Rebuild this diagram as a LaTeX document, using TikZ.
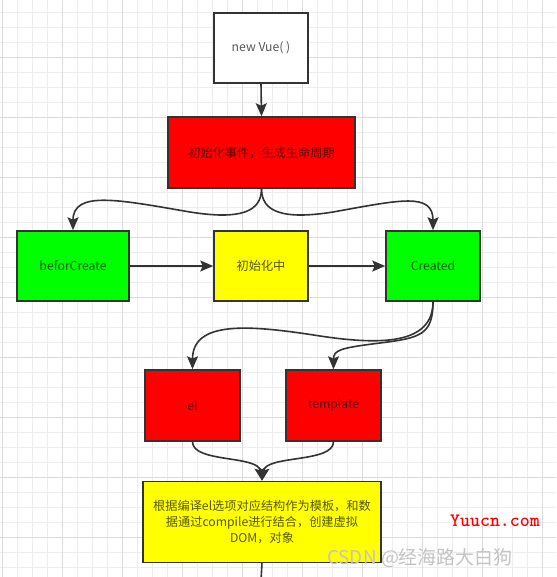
\documentclass[tikz,border=0pt]{standalone}
\usepackage{fontspec}
\setmainfont{Noto Sans CJK SC}
\usetikzlibrary{arrows.meta}
\definecolor{edgecol}{HTML}{333333}
\definecolor{boxred}{HTML}{FF0000}
\definecolor{boxgreen}{HTML}{00FF00}
\definecolor{boxyellow}{HTML}{FFFF00}
\definecolor{gridminor}{HTML}{EDEDED}
\definecolor{gridmajor}{HTML}{DCDCDC}
\definecolor{wmgray}{HTML}{C4C4C4}
\tikzset{
  stepbox/.style={draw=edgecol, line width=1.5pt, rectangle, inner sep=0pt,
    text=black, text opacity=0.66, font=\fontsize{12.2}{16}\selectfont, align=center},
  conn/.style={draw=edgecol, line width=1.6pt, -{Stealth[length=13pt,width=11pt,inset=2.5pt]}},
}
\begin{document}
\begin{tikzpicture}[x=1pt,y=-1pt]
\useasboundingbox (0,0) rectangle (556,577);
\fill[white] (0,0) rectangle (556,577);
% grid
\foreach \k in {0,...,36} {\draw[gridminor, line width=0.8pt] (2.3+15*\k,0) -- (2.3+15*\k,577);}
\foreach \k in {0,...,37} {\draw[gridminor, line width=0.8pt] (0,12.3+15*\k) -- (556,12.3+15*\k);}
\foreach \k in {0,...,9} {\draw[gridmajor, line width=0.8pt] (2.3+60*\k,0) -- (2.3+60*\k,577);}
\foreach \k in {0,...,8} {\draw[gridmajor, line width=0.8pt] (0,57.3+60*\k) -- (556,57.3+60*\k);}

% nodes
\node[stepbox, fill=white, minimum width=94pt, minimum height=70pt] (vue) at (261,48) {new Vue( )};
\node[stepbox, fill=boxred, minimum width=187pt, minimum height=71pt] (ev) at (261.5,152.5) {初始化事件，生成生命周期};
\node[stepbox, fill=boxgreen, minimum width=112pt, minimum height=70pt] (bc) at (73,266) {beforCreate};
\node[stepbox, fill=boxyellow, minimum width=94pt, minimum height=70pt] (mid) at (261,266) {初始化中};
\node[stepbox, fill=boxgreen, minimum width=94pt, minimum height=70pt] (cr) at (433,266) {Created};
\node[stepbox, fill=boxred, minimum width=95pt, minimum height=71pt] (el) at (192.5,405.5) {el};
\node[stepbox, fill=boxred, minimum width=95pt, minimum height=71pt] (tp) at (333.5,405.5) {template};
\node[stepbox, fill=boxyellow, minimum width=238pt, minimum height=81pt] (dom) at (262,522)
  {根据编译el选项对应结构作为模板，和数\\据通过compile进行结合，创建虚拟\\DOM，对象};
\coordinate (tail) at (261,580);

% connectors
\draw[conn] (vue.south) -- (ev.north);
\draw[conn] (ev.south) .. controls (261.5,212) and (240,220) .. (190,212)
  .. controls (120,200) and (73,190) .. (bc.north);
\draw[conn] (ev.south) .. controls (261.5,212) and (283,220) .. (333,212)
  .. controls (400,200) and (433,192) .. (cr.north);
\draw[conn] (bc.east) -- (mid.west);
\draw[conn] (mid.east) -- (cr.west);
\draw[conn] (cr.south) .. controls (433,345) and (380,345) .. (320,336)
  .. controls (250,325) and (192.5,320) .. (el.north);
\draw[conn] (cr.south) .. controls (433,335) and (420,338) .. (380,343)
  .. controls (340,348) and (333.5,350) .. (tp.north);
\draw[conn] (el.south) .. controls (192.5,463) and (258,455) .. (dom.north);
\draw[conn] (tp.south) .. controls (333.5,463) and (266,455) .. (dom.north);
\draw[draw=edgecol, line width=1.6pt] (dom.south) -- (tail);

% watermarks
\node[text=red, font=\ttfamily\bfseries\fontsize{19}{20}\selectfont, inner sep=0pt] (wm1) at (495,521) {Yuucn.com};
\node[text=wmgray, font=\fontsize{19}{20}\selectfont, inner sep=0pt] (wm2) at (420,558) {CSDN @经海路大白狗};
\end{tikzpicture}
\end{document}
